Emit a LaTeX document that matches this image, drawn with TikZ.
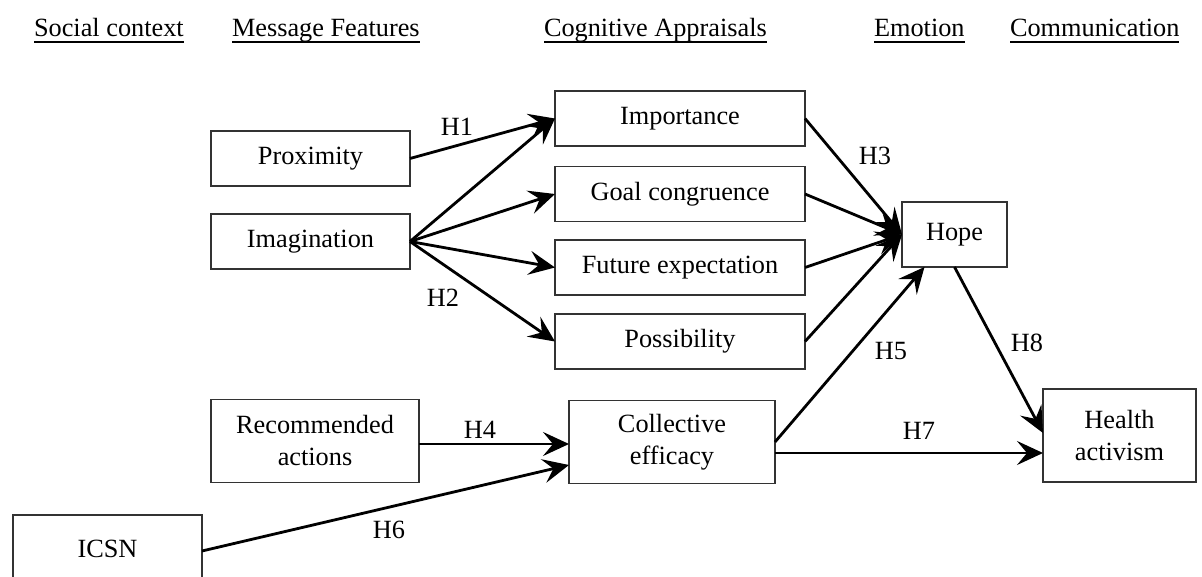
\documentclass[tikz,border=0pt]{standalone}
\usepackage{fontspec}
\setmainfont{Liberation Serif}
\usepackage{tikz}
\usetikzlibrary{positioning}
\usetikzlibrary{arrows.meta,calc}

\tikzset{
  box/.style={draw=black!80, line width=1.5pt, inner sep=0pt,
              font=\fontsize{26.3}{32}\selectfont, text height=18pt, text depth=5.5pt},
  twobox/.style={draw=black!80, line width=1.5pt, inner sep=0pt, align=center,
              font=\fontsize{26.3}{32}\selectfont},
  link/.style={line width=2.8pt, -{Stealth[length=26pt,width=24pt,inset=10pt]}},
  hyp/.style={inner sep=0pt, font=\fontsize{26.3}{32}\selectfont},
  head/.style={anchor=base west, inner sep=0pt, font=\fontsize{26.3}{32}\selectfont},
  headrule/.style={line width=1.8pt}
}

\begin{document}
\begin{tikzpicture}[x=1pt, y=-1pt, outer sep = 0pt]

\useasboundingbox (0,0) rectangle (1202,577);

% column headings
\node [head] (hsoc)  at (34,37)   {Social context};
\node [head] (hmsg)  at (232,37)  {Message Features};
\node [head] (hcog)  at (544,37)  {Cognitive Appraisals};
\node [head] (hemo)  at (874,37)  {Emotion};
\node [head] (hcom)  at (1010,37) {Communication};
\foreach \h in {hsoc,hmsg,hcog,hemo,hcom}
  \draw[headrule] ([yshift=-5pt]\h.base west) -- ([yshift=-5pt]\h.base east);

% message features
\node [box, minimum width=199pt, minimum height=55pt] (prox) at (310.5,158.5) {Proximity};
\node [box, minimum width=199pt, minimum height=55pt] (imag) at (310.5,241.5) {Imagination};
\node [twobox, minimum width=208pt, minimum height=83pt] (recom) at (315,441) {Recommended\\actions};
\node [box, minimum width=189pt, minimum height=72pt] (icsn) at (107.5,551) {ICSN};

% appraisals
\node [box, minimum width=250pt, minimum height=55pt] (imp)  at (680,118.5) {Importance};
\node [box, minimum width=250pt, minimum height=55pt] (goal) at (680,194)   {Goal congruence};
\node [box, minimum width=250pt, minimum height=55pt] (fut)  at (680,267.5) {Future expectation};
\node [box, minimum width=250pt, minimum height=55pt] (poss) at (680,341.5) {Possibility};
\node [twobox, minimum width=206pt, minimum height=83pt] (coll) at (672,442) {Collective\\efficacy};

% emotion, communication
\node [box, minimum width=105pt, minimum height=65pt] (hope)   at (954.5,234.5) {Hope};
\node [twobox, minimum width=153pt, minimum height=93pt] (health) at (1119.5,435.5) {Health\\activism};

\coordinate (collout) at ([yshift=-11pt]coll.east);
\coordinate (collin)  at ([yshift=-23pt]coll.west);

\draw[link] (prox.east) -- (imp.west);
\foreach \t in {imp,goal,fut,poss}
  \draw[link] (imag.east) -- (\t.west);
\foreach \s in {imp,goal,fut,poss}
  \draw[link] (\s.east) -- (hope.west);

\draw[link] ([yshift=-2pt]recom.east |- coll.west) -- ([yshift=-2pt]coll.west);
\draw[link] (icsn.east) -- (collin);
\draw[link] (coll.east) -- ([xshift=-30pt]hope.south);
\draw[link] (collout) -- (health.west |- collout);
\draw[link] (hope.south) -- ([yshift=2.5pt]health.west);

\node [hyp] (h1) at (457,127)  {H1};
\node [hyp] (h2) at (443,298)  {H2};
\node [hyp] (h3) at (875,156)  {H3};
\node [hyp] (h4) at (480,430)  {H4};
\node [hyp] (h5) at (891,351)  {H5};
\node [hyp] (h6) at (389,530)  {H6};
\node [hyp] (h7) at (919,431)  {H7};
\node [hyp] (h8) at (1027,343) {H8};

\end{tikzpicture}
\end{document}
